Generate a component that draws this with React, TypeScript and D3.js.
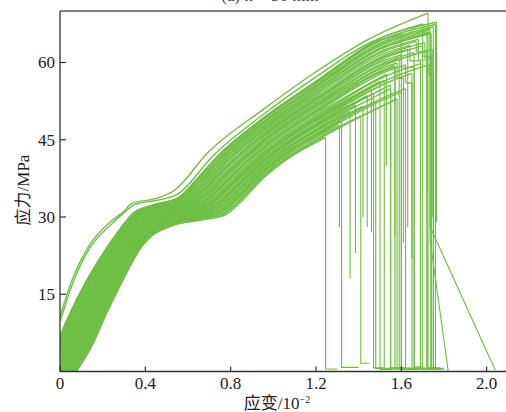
import { useEffect, useMemo } from 'react'
import * as d3 from 'd3'

// lower and upper edge of the main bundle of curves (strain in 10^-2, stress in MPa)
const lowerStrain = [0.078, 0.148, 0.219, 0.296, 0.383, 0.43, 0.52, 0.66, 0.77, 0.85, 0.94, 1.25, 1.59, 1.8]
const lowerStress = [0, 4.8, 11.3, 17.8, 24.2, 26.3, 28.2, 29.4, 30.3, 33.0, 37.0, 45.6, 52.7, 56.2]
const upperStrain = [-0.07, -0.005, 0.08, 0.18, 0.28, 0.34, 0.43, 0.55, 0.64, 0.735, 0.95, 1.2, 1.485, 1.8]
const upperStress = [0, 6.8, 14.5, 21.8, 27.8, 30.8, 32.4, 33.8, 37.6, 42.0, 49.4, 56.6, 64.6, 68.5]

// specimens inside the bundle: position in the band, failure, and what is left after the drop
const bandPos = [0.0, 0.08, 0.12, 0.2, 0.25, 0.05, 0.3, 0.35, 0.15, 0.4, 0.45, 0.22, 0.5, 0.55, 0.6, 0.65, 0.1, 0.7, 0.75, 0.32, 0.8, 0.42, 0.85, 0.9, 0.95, 0.58, 0.88, 0.68, 0.38, 0.48, 0.62, 0.78, 0.28, 0.18, 0.92, 0.98, 0.03, 0.13, 0.27, 0.36, 0.52, 0.72, 0.83, 0.96]
const failStrain = [1.245, 1.31, 1.32, 1.36, 1.385, 1.41, 1.44, 1.46, 1.48, 1.5, 1.53, 1.55, 1.57, 1.58, 1.59, 1.6, 1.6, 1.63, 1.64, 1.65, 1.68, 1.69, 1.735, 1.735, 1.76, 1.745, 1.72, 1.7, 1.52, 1.62, 1.66, 1.67, 1.47, 1.42, 1.75, 1.765, 1.58, 1.62, 1.55, 1.73, 1.57, 1.71, 1.74, 1.6]
const notchDrop = [0, 0, 0, 0, 0, 0, 0, 0, 0, 0, 0, 0, 0, 3, 0, 2.5, 0, 0, 3, 0, 4, 0, 0, 0, 0, 0, 0, 2, 0, 3.5, 0, 2, 0, 0, 0, 0, 0, 0, 0, 2, 0, 3, 0, 0]
const notchLen = [0, 0, 0, 0, 0, 0, 0, 0, 0, 0, 0, 0, 0, 0.03, 0, 0.06, 0, 0, 0.05, 0, 0.04, 0, 0, 0, 0, 0, 0, 0.04, 0, 0.03, 0, 0.05, 0, 0, 0, 0, 0, 0, 0, 0.02, 0, 0.03, 0, 0]
const dropStress = [0.5, 28, 0.8, 18, 23, 1.6, 28, 27, 0.6, 0.4, 40, 0.7, 0.5, 25, 0.6, 0.9, 0.4, 28, 0.5, 0.6, 0.7, 0.5, 28.1, 25.5, 0.6, 30, 0.5, 0.8, 0.5, 22, 0.6, 35, 0.7, 30, 0.5, 29, 0.6, 0.5, 0.7, 0.5, 26, 0.6, 0.5, 0.6]
const tailStrain = [1.3, 1.31, 1.4, 1.36, 1.385, 1.45, 1.44, 1.46, 1.55, 1.56, 1.53, 1.62, 1.66, 1.58, 1.7, 1.7, 1.68, 1.63, 1.72, 1.75, 1.78, 1.8, 2.04, 1.82, 1.8, 1.745, 1.76, 1.76, 1.6, 1.62, 1.71, 1.67, 1.52, 1.42, 1.79, 1.765, 1.66, 1.7, 1.6, 1.78, 1.57, 1.77, 1.79, 1.64]
const tailStress = [0.5, 28, 0.8, 18, 23, 1.6, 28, 27, 0.6, 0.4, 40, 0.7, 0.5, 25, 0.6, 0.9, 0.4, 28, 0.5, 0.6, 0.7, 0.5, 0.3, 0, 0.6, 30, 0.5, 0.8, 0.5, 22, 0.6, 35, 0.7, 30, 0.5, 29, 0.6, 0.5, 0.7, 0.5, 26, 0.6, 0.5, 0.6]

// two stiffer specimens above the bundle
const outerAStrain = [0, 0.055, 0.133, 0.234, 0.297, 0.336, 0.45, 0.53, 0.7, 0.95, 1.2, 1.45, 1.725]
const outerAStress = [10.6, 17.6, 24.2, 29.0, 31.0, 32.6, 33.6, 35.0, 42.8, 50.8, 58.2, 64.6, 69.6]
const outerBStrain = [0, 0.06, 0.14, 0.24, 0.3, 0.35, 0.45, 0.55, 0.72, 0.95, 1.2, 1.45, 1.7]
const outerBStress = [9.6, 17.2, 24.0, 28.6, 30.8, 32.4, 33.2, 34.4, 42.0, 49.8, 57.2, 63.8, 67.5]

const xTicks = [0, 0.4, 0.8, 1.2, 1.6, 2.0]
const xTickLabels = ['0', '0.4', '0.8', '1.2', '1.6', '2.0']
const yTicks = [15, 30, 45, 60]
const yTickLabels = ['15', '30', '45', '60']

const W = 506
const H = 412
const GREEN = '#6fbe44'
const serif = '"Liberation Serif", "Times New Roman", serif'
const cjk = '"Noto Sans CJK SC", sans-serif'

type Pt = [number, number]

function cutAt(pts: Pt[], fx: number): Pt[] {
  const out: Pt[] = []
  for (let i = 0; i < pts.length; i++) {
    if (pts[i][0] < fx) { out.push(pts[i]); continue }
    const a = pts[i - 1], b = pts[i]
    const k = (fx - a[0]) / (b[0] - a[0])
    out.push([fx, a[1] + (b[1] - a[1]) * k])
    break
  }
  return out
}

export default function App() {
  useEffect(() => { document.body.style.margin = '0' }, [])

  const x = d3.scaleLinear().domain([0, 2.1]).range([60, 508])
  const y = d3.scaleLinear().domain([0, 70]).range([371.5, 11])

  const curves = useMemo(() => {
    const list: { body: Pt[]; tail: Pt[] }[] = []
    bandPos.forEach((t, i) => {
      const pts: Pt[] = lowerStrain.map((s, j) => [s + (upperStrain[j] - s) * t, lowerStress[j] + (upperStress[j] - lowerStress[j]) * t])
      const body = cutAt(pts, failStrain[i])
      const peak = body[body.length - 1]
      const tail: Pt[] = [peak]
      let xEnd = peak[0]
      if (notchDrop[i] > 0) {
        tail.push([peak[0], peak[1] - notchDrop[i]])
        xEnd = peak[0] + notchLen[i]
        tail.push([xEnd, peak[1] - notchDrop[i]])
      }
      tail.push([xEnd, dropStress[i]])
      tail.push([Math.max(tailStrain[i], xEnd), tailStress[i]])
      list.push({ body, tail })
    })
    const a: Pt[] = outerAStrain.map((s, j) => [s, outerAStress[j]])
    list.push({ body: a, tail: [a[a.length - 1], [1.725, 0.5], [1.77, 0.5]] })
    const b: Pt[] = outerBStrain.map((s, j) => [s, outerBStress[j]])
    list.push({ body: b, tail: [b[b.length - 1], [1.7, 0.6], [1.74, 0.6]] })
    return list
  }, [])

  const bodyLine = d3.line<Pt>().x((d) => x(d[0])).y((d) => y(d[1])).curve(d3.curveMonotoneX)
  const tailLine = d3.line<Pt>().x((d) => x(d[0])).y((d) => y(d[1]))

  const x0 = x(0)
  const yBase = y(0)

  return (
    <svg width={W} height={H} style={{ display: 'block', background: '#fff' }}>
      <defs>
        <clipPath id="plot"><rect x={x0} y={y(70)} width={x(2.1) - x0} height={yBase - y(70)} /></clipPath>
      </defs>

      <text x={270} y={1} textAnchor="middle" fontFamily={serif} fontSize={17} fill="#444">(a) h = 50 mm</text>

      <g clipPath="url(#plot)" fill="none" stroke={GREEN}>
        {curves.map((c, i) => (
          <g key={i}>
            <path d={bodyLine(c.body) ?? ''} strokeWidth={1.4} />
            <path d={tailLine(c.tail) ?? ''} strokeWidth={1.1} />
          </g>
        ))}
      </g>

      {/* frame */}
      <line x1={x0} x2={W} y1={y(70)} y2={y(70)} stroke="#555" strokeWidth={1.3} />
      <line x1={x0} x2={x0} y1={y(70)} y2={yBase} stroke="#333" strokeWidth={1.3} />
      <line x1={x0} x2={W} y1={yBase} y2={yBase} stroke="#333" strokeWidth={1.3} />

      {xTicks.map((t, i) => (
        <g key={t}>
          <line x1={x(t)} x2={x(t)} y1={yBase} y2={yBase - 5} stroke="#333" strokeWidth={1.2} />
          <text x={x(t)} y={389} textAnchor="middle" fontFamily={serif} fontSize={17} fill="#222">{xTickLabels[i]}</text>
        </g>
      ))}
      {yTicks.map((t, i) => (
        <g key={t}>
          <line x1={x0} x2={x0 + 6} y1={y(t)} y2={y(t)} stroke="#333" strokeWidth={1.2} />
          <text x={55} y={y(t)} dy="0.35em" textAnchor="end" fontFamily={serif} fontSize={17} fill="#222">{yTickLabels[i]}</text>
        </g>
      ))}

      <text x={277} y={409} textAnchor="middle" fontSize={17} fill="#222">
        <tspan fontFamily={cjk}>应变</tspan>
        <tspan fontFamily={serif}>/10</tspan>
        <tspan fontFamily={serif} fontSize={10} dy={-6}>−2</tspan>
      </text>
      <text transform="translate(29,190) rotate(-90)" textAnchor="middle" fontSize={17} fill="#222">
        <tspan fontFamily={cjk}>应力</tspan>
        <tspan fontFamily={serif}>/MPa</tspan>
      </text>
    </svg>
  )
}
